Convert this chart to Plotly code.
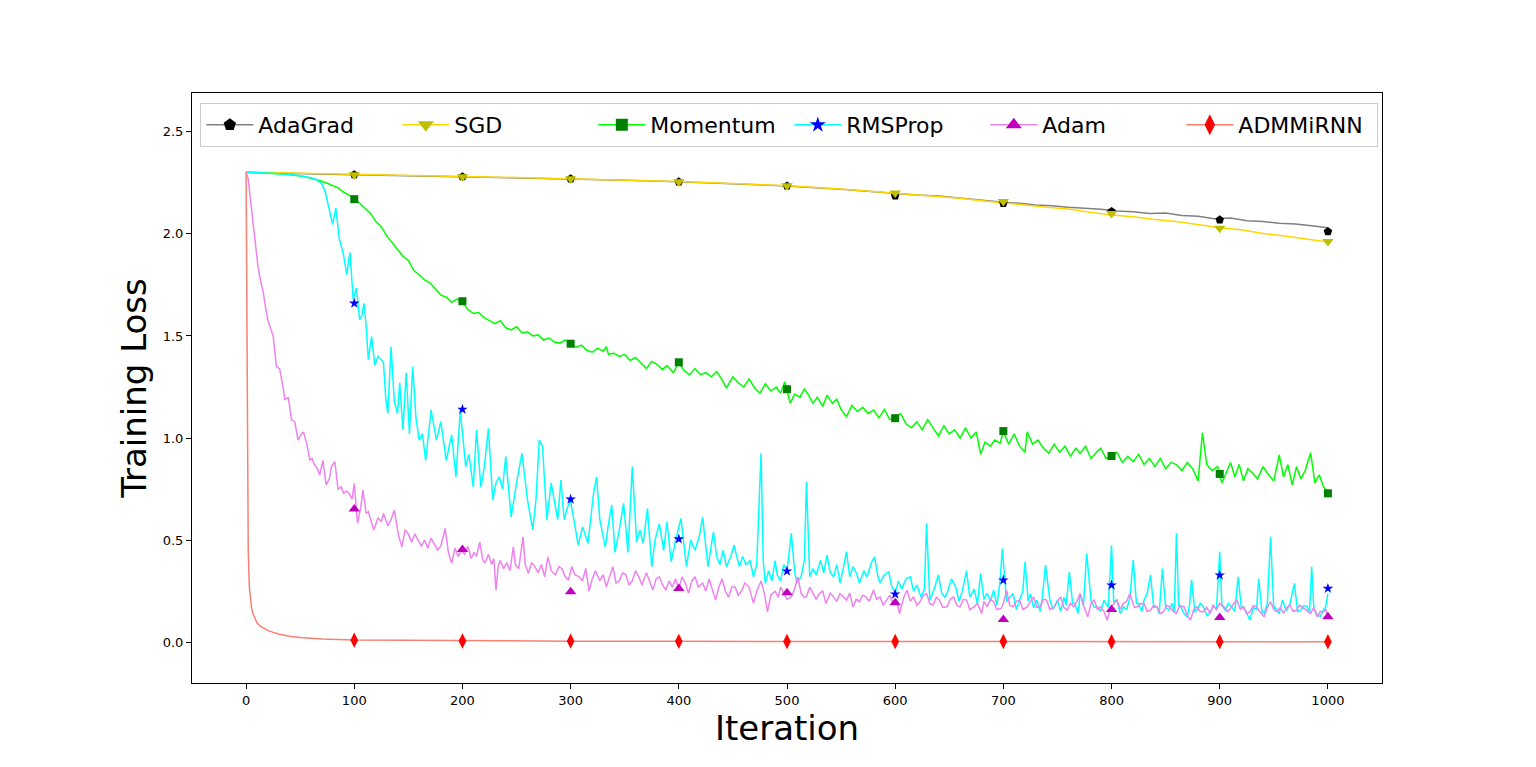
import plotly.graph_objects as go

# Marker positions (every 100 iterations)
marker_iters = [100, 200, 300, 400, 500, 600, 700, 800, 900, 1000]

# AdaGrad
adagrad_iter = [0, 25, 50, 75, 100, 150, 200, 250, 300, 350, 400, 450, 500, 550, 600,
                620, 640, 660, 680, 700, 715, 730, 745, 760, 775, 790, 805, 820, 835, 850,
                865, 880, 895, 910, 925, 940, 955, 970, 985, 1000]
adagrad_loss = [2.302, 2.298, 2.295, 2.292, 2.290, 2.285, 2.280, 2.276, 2.270, 2.263, 2.255, 2.246,
                2.235, 2.219, 2.198, 2.190, 2.185, 2.174, 2.166, 2.155, 2.150, 2.142, 2.138, 2.130,
                2.126, 2.121, 2.112, 2.108, 2.100, 2.102, 2.090, 2.086, 2.074, 2.078, 2.064,
                2.060, 2.052, 2.048, 2.040, 2.030]
adagrad_marks = [2.290, 2.280, 2.270, 2.255, 2.235, 2.186, 2.150, 2.110, 2.069, 2.011]

# SGD
sgd_iter = [0, 25, 50, 75, 100, 150, 200, 250, 300, 350, 400, 450, 500, 550, 600,
            620, 640, 660, 680, 700, 720, 740, 760, 780, 800, 820, 840, 860, 880, 900,
            920, 940, 960, 980, 1000]
sgd_loss = [2.302, 2.299, 2.296, 2.293, 2.291, 2.286, 2.281, 2.276, 2.270, 2.263, 2.256, 2.247,
            2.236, 2.220, 2.200, 2.192, 2.184, 2.174, 2.162, 2.153, 2.142, 2.130, 2.122, 2.106,
            2.093, 2.084, 2.070, 2.061, 2.046, 2.030, 2.020, 2.002, 1.990, 1.975, 1.960]
sgd_marks = [2.290, 2.280, 2.270, 2.255, 2.236, 2.200, 2.158, 2.100, 2.028, 1.962]

# Momentum
momentum_iter = [0, 10, 20, 30, 40, 50, 60, 67, 75, 80, 85, 90, 95, 100, 105, 110, 115, 120, 125,
                 130, 135, 140, 145, 150, 155, 160, 165, 170, 175, 180, 185, 190, 195, 200, 205,
                 210, 215, 220, 225, 230, 235, 240, 245, 250, 255, 260, 265, 270, 275, 280, 285,
                 290, 295, 300, 305, 310, 315, 320, 325, 330, 333, 335, 340, 345, 350, 355, 360,
                 365, 370, 375, 380, 385, 389, 395, 400, 405, 410, 415, 420, 425, 430, 435, 440,
                 444, 450, 455, 460, 465, 470, 475, 480, 485, 490, 494, 498, 503, 507, 512, 516,
                 520, 524, 528, 533, 537, 542, 546, 550, 555, 560, 565, 570, 575, 580, 585, 590,
                 595, 600, 605, 610, 615, 620, 625, 630, 635, 640, 645, 650, 655, 660, 665, 670,
                 675, 679, 683, 688, 692, 697, 700, 705, 710, 715, 720, 722, 727, 732, 737, 742,
                 747, 752, 757, 762, 767, 771, 776, 781, 786, 790, 795, 800, 805, 810, 815, 820,
                 825, 830, 835, 840, 845, 850, 855, 860, 865, 870, 875, 880, 884, 888, 893, 898,
                 902, 906, 910, 914, 918, 922, 926, 930, 935, 940, 945, 950, 955, 959, 963, 967,
                 971, 975, 979, 984, 988, 992, 996, 999, 1000]
momentum_loss = [2.302, 2.300, 2.298, 2.295, 2.290, 2.283, 2.272, 2.263, 2.248, 2.238, 2.225, 2.205,
                 2.190, 2.175, 2.150, 2.127, 2.100, 2.060, 2.035, 1.990, 1.955, 1.925, 1.890, 1.870,
                 1.820, 1.800, 1.775, 1.760, 1.730, 1.700, 1.690, 1.665, 1.680, 1.665, 1.630, 1.610,
                 1.615, 1.590, 1.575, 1.560, 1.575, 1.540, 1.530, 1.545, 1.515, 1.520, 1.500, 1.505,
                 1.480, 1.490, 1.470, 1.465, 1.480, 1.460, 1.445, 1.455, 1.430, 1.420, 1.440, 1.425,
                 1.447, 1.410, 1.415, 1.400, 1.410, 1.380, 1.395, 1.370, 1.340, 1.375, 1.360, 1.335,
                 1.355, 1.320, 1.370, 1.330, 1.310, 1.340, 1.310, 1.320, 1.300, 1.325, 1.285, 1.244,
                 1.300, 1.270, 1.250, 1.290, 1.245, 1.220, 1.265, 1.230, 1.250, 1.219, 1.275, 1.170,
                 1.215, 1.200, 1.240, 1.210, 1.170, 1.200, 1.155, 1.210, 1.170, 1.190, 1.140, 1.104,
                 1.160, 1.130, 1.150, 1.120, 1.137, 1.100, 1.140, 1.090, 1.100, 1.120, 1.070, 1.050,
                 1.080, 1.040, 1.090, 1.050, 1.010, 1.060, 1.020, 1.040, 1.000, 1.050, 1.000, 1.030,
                 0.920, 0.980, 0.960, 0.990, 0.975, 1.030, 0.970, 1.020, 0.960, 0.930, 1.030, 0.970,
                 0.990, 0.950, 0.925, 0.970, 0.930, 0.960, 0.910, 0.950, 0.925, 0.960, 0.900, 0.930,
                 0.950, 0.900, 0.912, 0.930, 0.880, 0.910, 0.884, 0.920, 0.870, 0.900, 0.860, 0.900,
                 0.850, 0.880, 0.870, 0.840, 0.880, 0.850, 0.790, 1.026, 0.870, 0.840, 0.860, 0.780,
                 0.830, 0.880, 0.810, 0.870, 0.790, 0.850, 0.830, 0.800, 0.860, 0.820, 0.790, 0.917,
                 0.810, 0.870, 0.770, 0.860, 0.800, 0.840, 0.928, 0.780, 0.820, 0.760, 0.745, 0.730]
momentum_marks = [2.170, 1.670, 1.462, 1.371, 1.239, 1.097, 1.034, 0.912, 0.824, 0.729]

# RMSProp
rmsprop_iter = [0, 10, 20, 30, 40, 50, 55, 60, 65, 70, 73, 77, 80, 83, 86, 90, 93, 96, 99, 102,
                105, 107, 109, 111, 113, 116, 119, 122, 125, 127, 129, 131, 134, 137, 140, 142,
                145, 148, 151, 154, 157, 160, 163, 166, 171, 176, 180, 185, 190, 194, 198, 203,
                206, 210, 213, 217, 220, 224, 228, 231, 234, 237, 240, 245, 250, 255, 260, 265,
                268, 271, 274, 278, 282, 288, 291, 294, 297, 300, 303, 307, 311, 316, 321, 324,
                327, 332, 335, 338, 341, 345, 349, 353, 357, 361, 364, 367, 371, 375, 378, 382,
                386, 389, 393, 397, 402, 405, 407, 411, 415, 419, 422, 427, 432, 435, 438, 441,
                444, 448, 451, 456, 459, 462, 466, 469, 472, 476, 478, 480, 483, 486, 489, 491,
                494, 497, 500, 504, 507, 509, 513, 516, 518, 521, 524, 527, 531, 534, 537, 540,
                543, 546, 549, 552, 555, 558, 561, 564, 567, 571, 574, 578, 581, 584, 586, 590,
                594, 597, 600, 603, 606, 610, 614, 617, 620, 624, 627, 629, 632, 636, 640, 643,
                646, 648, 652, 656, 659, 662, 666, 669, 673, 676, 679, 682, 685, 688, 691, 694,
                697, 699, 703, 706, 709, 712, 715, 718, 720, 723, 725, 728, 731, 734, 736, 739,
                743, 746, 750, 753, 756, 758, 761, 764, 766, 769, 771, 774, 777, 781, 784, 787,
                790, 793, 797, 800, 802, 805, 808, 811, 814, 817, 820, 823, 825, 828, 830, 833,
                836, 839, 842, 844, 847, 850, 853, 856, 858, 860, 862, 864, 867, 870, 872, 874,
                877, 879, 882, 885, 888, 891, 894, 897, 900, 902, 905, 908, 911, 914, 917, 920,
                922, 925, 928, 931, 934, 936, 939, 941, 944, 947, 950, 951, 955, 958, 961, 962,
                965, 969, 972, 975, 978, 981, 983, 985, 987, 989, 992, 993, 996, 998, 1000]
rmsprop_loss = [2.302, 2.300, 2.298, 2.296, 2.292, 2.285, 2.280, 2.275, 2.265, 2.245, 2.210, 2.120,
                2.046, 2.127, 1.980, 1.900, 1.800, 1.910, 1.680, 1.735, 1.580, 1.600, 1.660, 1.547,
                1.384, 1.497, 1.358, 1.400, 1.384, 1.370, 1.200, 1.120, 1.447, 1.180, 1.120, 1.270,
                1.040, 1.320, 1.020, 1.350, 1.100, 0.990, 1.020, 0.890, 1.137, 0.990, 1.080, 0.890,
                1.015, 0.810, 1.137, 0.860, 0.920, 0.760, 1.040, 0.760, 0.850, 1.047, 0.696, 0.780,
                0.810, 0.750, 0.910, 0.614, 0.780, 0.925, 0.700, 0.550, 0.700, 0.990, 0.960, 0.598,
                0.780, 0.600, 0.794, 0.600, 0.660, 0.690, 0.600, 0.475, 0.565, 0.484, 0.720, 0.810,
                0.600, 0.467, 0.580, 0.672, 0.440, 0.550, 0.680, 0.440, 0.860, 0.490, 0.550, 0.484,
                0.655, 0.369, 0.500, 0.580, 0.450, 0.590, 0.394, 0.500, 0.606, 0.450, 0.370, 0.500,
                0.450, 0.520, 0.614, 0.370, 0.540, 0.420, 0.380, 0.450, 0.370, 0.420, 0.475, 0.370,
                0.420, 0.380, 0.400, 0.320, 0.380, 0.925, 0.400, 0.288, 0.350, 0.300, 0.400, 0.330,
                0.300, 0.380, 0.350, 0.533, 0.350, 0.290, 0.320, 0.400, 0.786, 0.320, 0.360, 0.330,
                0.400, 0.340, 0.426, 0.340, 0.320, 0.380, 0.290, 0.360, 0.443, 0.320, 0.370, 0.340,
                0.290, 0.350, 0.320, 0.390, 0.418, 0.320, 0.290, 0.330, 0.345, 0.270, 0.240, 0.300,
                0.260, 0.310, 0.320, 0.250, 0.280, 0.220, 0.260, 0.582, 0.206, 0.260, 0.330, 0.240,
                0.220, 0.240, 0.310, 0.270, 0.200, 0.250, 0.350, 0.220, 0.260, 0.190, 0.337, 0.210,
                0.240, 0.200, 0.255, 0.180, 0.300, 0.459, 0.198, 0.220, 0.238, 0.160, 0.206, 0.250,
                0.394, 0.200, 0.238, 0.170, 0.206, 0.150, 0.220, 0.377, 0.206, 0.160, 0.206, 0.150,
                0.220, 0.180, 0.345, 0.190, 0.190, 0.140, 0.238, 0.180, 0.435, 0.206, 0.170, 0.173,
                0.150, 0.206, 0.170, 0.475, 0.200, 0.206, 0.140, 0.173, 0.160, 0.220, 0.402, 0.190,
                0.190, 0.150, 0.206, 0.240, 0.330, 0.170, 0.173, 0.140, 0.360, 0.170, 0.157, 0.190,
                0.150, 0.533, 0.180, 0.173, 0.140, 0.124, 0.180, 0.307, 0.150, 0.157, 0.190, 0.173,
                0.130, 0.141, 0.180, 0.160, 0.443, 0.180, 0.157, 0.190, 0.173, 0.150, 0.320, 0.170,
                0.173, 0.140, 0.108, 0.170, 0.160, 0.310, 0.150, 0.141, 0.190, 0.516, 0.160, 0.173,
                0.140, 0.206, 0.160, 0.157, 0.190, 0.288, 0.150, 0.157, 0.180, 0.173, 0.140, 0.369,
                0.170, 0.141, 0.130, 0.124, 0.160, 0.173, 0.238]
rmsprop_marks = [1.660, 1.140, 0.700, 0.505, 0.348, 0.235, 0.304, 0.279, 0.328, 0.263]

# Adam
adam_iter = [0, 2, 4, 6, 9, 11, 13, 16, 18, 20, 23, 25, 28, 31, 34, 36, 39, 42, 45, 48, 50, 53,
             56, 59, 61, 63, 66, 68, 71, 74, 77, 79, 82, 85, 88, 90, 93, 95, 98, 100, 103, 106,
             108, 111, 113, 116, 118, 122, 125, 127, 131, 134, 137, 141, 144, 147, 150, 153, 156,
             159, 162, 165, 168, 171, 174, 177, 180, 184, 187, 190, 193, 196, 199, 202, 205, 208,
             211, 213, 216, 219, 221, 224, 227, 229, 231, 233, 235, 238, 241, 244, 247, 249, 252,
             256, 258, 261, 264, 267, 270, 273, 276, 279, 282, 286, 289, 292, 295, 298, 301, 304,
             308, 311, 314, 317, 320, 323, 327, 330, 333, 336, 339, 342, 345, 348, 351, 354, 357,
             360, 363, 366, 370, 373, 376, 379, 382, 385, 388, 391, 394, 397, 400, 403, 406, 409,
             412, 415, 418, 422, 425, 428, 431, 434, 437, 440, 443, 446, 449, 452, 455, 458, 461,
             465, 469, 472, 476, 479, 482, 485, 489, 492, 494, 497, 500, 504, 507, 510, 513, 516,
             518, 521, 524, 527, 530, 533, 536, 540, 543, 546, 549, 552, 555, 558, 561, 564, 567,
             570, 573, 576, 580, 583, 586, 589, 592, 595, 598, 601, 604, 608, 611, 614, 617, 620,
             623, 626, 629, 632, 635, 638, 641, 644, 648, 651, 654, 657, 660, 663, 666, 669, 673,
             676, 680, 682, 685, 688, 691, 694, 698, 700, 703, 706, 709, 712, 715, 718, 722, 725,
             728, 731, 734, 737, 740, 743, 747, 750, 753, 756, 759, 762, 765, 768, 771, 774, 778,
             781, 784, 787, 790, 793, 796, 799, 802, 805, 808, 811, 814, 817, 821, 824, 827, 830,
             833, 836, 839, 842, 845, 848, 851, 854, 857, 860, 863, 867, 870, 873, 876, 879, 882,
             885, 888, 891, 894, 897, 900, 904, 907, 910, 913, 916, 919, 922, 925, 928, 931, 934,
             937, 941, 944, 947, 950, 953, 956, 959, 962, 965, 968, 971, 974, 978, 981, 984, 987,
             990, 993, 996, 998, 1000]
adam_loss = [2.302, 2.270, 2.170, 2.070, 1.930, 1.840, 1.780, 1.710, 1.640, 1.580, 1.530, 1.500,
             1.350, 1.340, 1.253, 1.186, 1.200, 1.088, 1.080, 0.990, 1.010, 1.030, 0.974, 0.892,
             0.900, 0.870, 0.850, 0.819, 0.890, 0.770, 0.800, 0.860, 0.884, 0.750, 0.760, 0.729,
             0.740, 0.730, 0.700, 0.778, 0.582, 0.660, 0.745, 0.630, 0.640, 0.580, 0.549, 0.610,
             0.590, 0.630, 0.570, 0.600, 0.647, 0.520, 0.467, 0.550, 0.530, 0.490, 0.530, 0.500,
             0.470, 0.500, 0.460, 0.510, 0.480, 0.451, 0.470, 0.557, 0.440, 0.386, 0.460, 0.420,
             0.450, 0.430, 0.470, 0.410, 0.440, 0.420, 0.490, 0.400, 0.390, 0.430, 0.380, 0.410,
             0.255, 0.370, 0.400, 0.360, 0.390, 0.350, 0.467, 0.380, 0.360, 0.516, 0.380, 0.337,
             0.390, 0.370, 0.340, 0.380, 0.320, 0.418, 0.350, 0.330, 0.370, 0.360, 0.320, 0.304,
             0.370, 0.330, 0.320, 0.300, 0.361, 0.250, 0.310, 0.350, 0.300, 0.330, 0.271, 0.320,
             0.370, 0.290, 0.300, 0.340, 0.330, 0.280, 0.300, 0.350, 0.320, 0.280, 0.340, 0.300,
             0.255, 0.310, 0.320, 0.280, 0.255, 0.300, 0.270, 0.310, 0.260, 0.320, 0.290, 0.240,
             0.300, 0.320, 0.270, 0.290, 0.250, 0.310, 0.260, 0.206, 0.270, 0.310, 0.250, 0.220,
             0.270, 0.270, 0.230, 0.250, 0.290, 0.270, 0.190, 0.250, 0.300, 0.240, 0.149, 0.230,
             0.250, 0.220, 0.270, 0.240, 0.210, 0.222, 0.260, 0.320, 0.240, 0.220, 0.222, 0.270,
             0.238, 0.210, 0.238, 0.250, 0.190, 0.240, 0.222, 0.200, 0.238, 0.220, 0.206, 0.240,
             0.173, 0.210, 0.198, 0.230, 0.222, 0.200, 0.255, 0.210, 0.222, 0.180, 0.206, 0.230,
             0.190, 0.210, 0.140, 0.220, 0.255, 0.200, 0.222, 0.180, 0.198, 0.230, 0.238, 0.190,
             0.181, 0.220, 0.206, 0.170, 0.173, 0.210, 0.222, 0.180, 0.173, 0.210, 0.206, 0.160,
             0.173, 0.190, 0.141, 0.200, 0.173, 0.210, 0.198, 0.160, 0.165, 0.190, 0.254, 0.180,
             0.173, 0.200, 0.206, 0.160, 0.173, 0.200, 0.222, 0.170, 0.173, 0.210, 0.206, 0.160,
             0.173, 0.200, 0.222, 0.170, 0.157, 0.190, 0.173, 0.200, 0.238, 0.180, 0.124, 0.190,
             0.206, 0.160, 0.173, 0.150, 0.108, 0.170, 0.190, 0.206, 0.160, 0.190, 0.200, 0.238,
             0.170, 0.173, 0.190, 0.190, 0.150, 0.157, 0.180, 0.173, 0.140, 0.149, 0.180, 0.173,
             0.150, 0.141, 0.180, 0.173, 0.130, 0.108, 0.160, 0.173, 0.150, 0.149, 0.170, 0.141,
             0.180, 0.160, 0.190, 0.173, 0.150, 0.165, 0.190, 0.206, 0.160, 0.173, 0.140, 0.149,
             0.180, 0.173, 0.150, 0.124, 0.170, 0.198, 0.160, 0.149, 0.170, 0.141, 0.170, 0.181,
             0.150, 0.157, 0.180, 0.165, 0.150, 0.141, 0.170, 0.124, 0.150, 0.149, 0.160, 0.130]
adam_marks = [0.652, 0.454, 0.247, 0.263, 0.242, 0.193, 0.111, 0.160, 0.121, 0.124]

# ADMMiRNN
admm_iter = [0, 1, 2, 3, 4, 5, 6, 8, 10, 13, 16, 20, 25, 30, 40, 50, 70, 100, 150, 200, 300,
             400, 500, 600, 700, 800, 900, 1000]
admm_loss = [2.302, 1.200, 0.450, 0.270, 0.210, 0.170, 0.145, 0.115, 0.095, 0.078, 0.068, 0.058,
             0.048, 0.040, 0.029, 0.023, 0.016, 0.011, 0.009, 0.007, 0.005, 0.004, 0.0035, 0.003,
             0.0028, 0.0025, 0.0022, 0.002]
admm_marks = [0.010, 0.006, 0.005, 0.004, 0.003, 0.003, 0.003, 0.002, 0.002, 0.002]

series = [
    ("AdaGrad", adagrad_iter, adagrad_loss, adagrad_marks, "gray", "black", "pentagon", 9),
    ("SGD", sgd_iter, sgd_loss, sgd_marks, "gold", "#bfbf00", "triangle-down", 10),
    ("Momentum", momentum_iter, momentum_loss, momentum_marks, "lime", "green", "square", 8),
    ("RMSProp", rmsprop_iter, rmsprop_loss, rmsprop_marks, "cyan", "blue", "star", 8),
    ("Adam", adam_iter, adam_loss, adam_marks, "violet", "#bf00bf", "triangle-up", 10),
    ("ADMMiRNN", admm_iter, admm_loss, admm_marks, "salmon", "red", "diamond-tall", 11),
]

fig = go.Figure()

# lines first
for name, xs, ys, marks, lc, mc, sym, sz in series:
    fig.add_trace(go.Scatter(x=xs, y=ys, mode="lines", line=dict(color=lc, width=1.5),
                             showlegend=False, hoverinfo="skip"))

# markers every 100 iterations
for name, xs, ys, marks, lc, mc, sym, sz in series:
    fig.add_trace(go.Scatter(x=marker_iters, y=marks, mode="markers",
                             marker=dict(symbol=sym, size=sz, color=mc, line=dict(width=0)),
                             showlegend=False))

# legend entries (line + marker)
for name, xs, ys, marks, lc, mc, sym, sz in series:
    fig.add_trace(go.Scatter(x=[None], y=[None], mode="lines+markers", name=name,
                             line=dict(color=lc, width=1.5),
                             marker=dict(symbol=sym, size=sz + 4, color=mc, line=dict(width=0))))

axis_common = dict(
    showline=True, linecolor="black", linewidth=1, mirror=True,
    ticks="outside", ticklen=5, tickwidth=1, tickcolor="black",
    showgrid=False, zeroline=False,
    tickfont=dict(size=13, color="black"),
)

# page body adds ~8px offset, margins compensate for that
fig.update_layout(
    width=1536,
    height=767,
    font=dict(family="DejaVu Sans", color="black"),
    paper_bgcolor="white",
    plot_bgcolor="white",
    margin=dict(l=184, r=162, t=85, b=92),
    xaxis=dict(range=[-50, 1050], tickvals=list(range(0, 1001, 100)),
               title=dict(text="Iteration", font=dict(size=34), standoff=7), **axis_common),
    yaxis=dict(range=[-0.2, 2.69], tickvals=[0, 0.5, 1.0, 1.5, 2.0, 2.5], tickformat=".1f",
               title=dict(text="Training Loss", font=dict(size=34), standoff=5), **axis_common),
    legend=dict(
        orientation="h",
        x=0.007, y=0.983, xanchor="left", yanchor="top",
        font=dict(size=22),
        bgcolor="white",
        bordercolor="#cccccc",
        borderwidth=1,
        itemwidth=47,
        entrywidth=134,
    ),
)

fig.write_html("out.html")
